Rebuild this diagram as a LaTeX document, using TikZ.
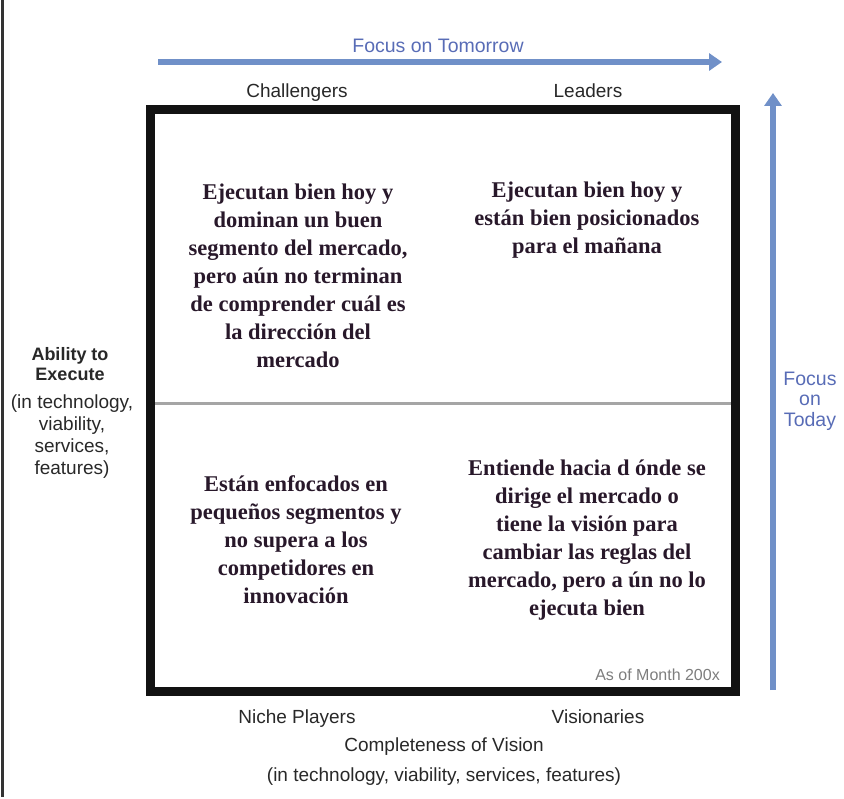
\documentclass[tikz,border=0pt]{standalone}
\usepackage{fontspec}
\setmainfont{Liberation Serif}
\setsansfont{Liberation Sans}
\usetikzlibrary{arrows.meta}
\definecolor{axisblue}{RGB}{112,144,200}
\definecolor{axistext}{RGB}{88,108,182}
\definecolor{labelgray}{RGB}{40,40,40}
\definecolor{notegray}{RGB}{125,125,125}
\definecolor{quadtext}{RGB}{40,24,42}
\definecolor{midgray}{RGB}{165,165,165}
\tikzset{
  axislabel/.style={font=\sffamily\fontsize{19}{21}\selectfont, text=labelgray, inner sep=0pt, align=center},
  baselabel/.style={axislabel, anchor=base},
  focuslabel/.style={font=\sffamily\fontsize{19.5}{20.5}\selectfont, text=axistext, inner sep=0pt, align=center},
  quadrant/.style={font=\rmfamily\bfseries\fontsize{22.5}{28}\selectfont, text=quadtext, inner sep=0pt, align=center},
  focusarrow/.style={draw=axisblue, line width=5.5pt, -{Triangle[length=13pt,width=17pt]}},
  frame/.style={draw=black!93, line width=9pt},
}
\begin{document}
\begin{tikzpicture}[x=1pt,y=-1pt]
  \useasboundingbox (0,0) rectangle (844,799);
  % left page rule
  \draw[line width=3pt, black!80] (2,0) -- (2,797);

  % the four-quadrant frame
  \coordinate (frameNW) at (150.5,109.5);
  \coordinate (frameSE) at (735,691);
  \coordinate (midW) at (155,404);
  \coordinate (midE) at (730.5,404);
  \draw[midgray, line width=3pt] (midW) -- (midE);
  \draw[frame] (frameNW) rectangle (frameSE);

  % focus axes
  \coordinate (tomorrowStart) at (158,62);
  \coordinate (tomorrowEnd) at (722,62);
  \draw[focusarrow] (tomorrowStart) -- (tomorrowEnd);
  \node[focuslabel, anchor=base] (tomorrow) at (438,53) {Focus on Tomorrow};

  \coordinate (todayStart) at (773,690);
  \coordinate (todayEnd) at (773,93);
  \draw[focusarrow] (todayStart) -- (todayEnd);
  \node[focuslabel] (today) at (810,401) {Focus\\on\\Today};

  % quadrant names
  \node[baselabel] (challengers) at (297,97.5) {Challengers};
  \node[baselabel] (leaders) at (588,97.5) {Leaders};
  \node[baselabel] (niche) at (297,723.5) {Niche Players};
  \node[baselabel] (visionaries) at (598,723.5) {Visionaries};

  % axis titles
  \node[baselabel] (vision) at (444,751.5) {Completeness of Vision};
  \node[baselabel] (visionsub) at (444,781.5) {(in technology, viability, services, features)};
  \node[axislabel, font=\sffamily\bfseries\fontsize{18}{20}\selectfont] (ability) at (70,364) {Ability to\\Execute};
  \node[axislabel, font=\sffamily\fontsize{19}{22}\selectfont] (abilitysub) at (72,437) {(in technology,\\viability,\\services,\\features)};

  % quadrant descriptions
  \node[quadrant] (qChallengers) at (298,276) {Ejecutan bien hoy y\\dominan un buen\\segmento del mercado,\\pero aún no terminan\\de comprender cuál es\\la dirección del\\mercado};
  \node[quadrant] (qLeaders) at (587,220) {Ejecutan bien hoy y\\están bien posicionados\\para el mañana};
  \node[quadrant] (qNiche) at (296,540) {Están enfocados en\\pequeños segmentos y\\no supera a los\\competidores en\\innovación};
  \node[quadrant] (qVisionaries) at (587,540) {Entiende hacia d ónde se\\dirige el mercado o\\tiene la visión para\\cambiar las reglas del\\mercado, pero a ún no lo\\ejecuta bien};

  % date stamp
  \node[font=\sffamily\fontsize{16}{18}\selectfont, text=notegray, inner sep=0pt, anchor=base east] (asof) at (720,680) {As of Month 200x};
\end{tikzpicture}
\end{document}
